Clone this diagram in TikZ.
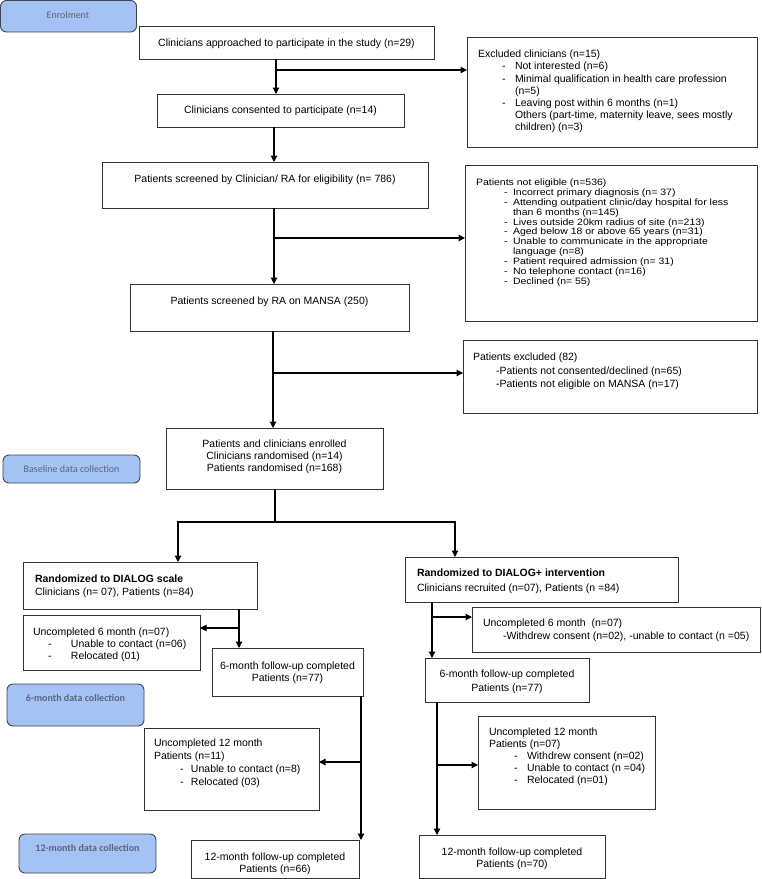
\documentclass[tikz,border=0pt]{standalone}
\usepackage{fontspec}
\usepackage{graphicx}
\setmainfont{Liberation Sans}
\newfontfamily\calfont{Carlito}
\usetikzlibrary{arrows.meta}
\definecolor{lblfill}{HTML}{A4C2F4}
\definecolor{lbldraw}{HTML}{3C4656}
\definecolor{lbltext}{HTML}{5A677A}
\definecolor{boxdraw}{HTML}{333333}
\newcommand\tstrut{\rule{0pt}{7.5pt}}
\newcommand\dsh[2]{\hspace*{#1}\makebox[#2][l]{-}}
\newcommand\ind[1]{\hspace*{#1}}
\begin{document}
\begin{tikzpicture}[x=1pt,y=-1pt,
  box/.style={draw=boxdraw, line width=1pt, inner sep=0pt, outer sep=0pt, anchor=north west},
  lbl/.style={draw=lbldraw, fill=lblfill, rounded corners=6pt, line width=0.9pt, inner sep=0pt, outer sep=0pt, anchor=north west},
  txt/.style={inner sep=0pt, outer sep=0pt, font=\fontsize{10.5}{12}\selectfont, align=center, anchor=north},
  ltxt/.style={txt, align=left, anchor=north west},
  lbltxt/.style={inner sep=0pt, font=\calfont\fontsize{10}{11}\selectfont, text=lbltext},
  lbltxtb/.style={lbltxt, font=\calfont\bfseries\fontsize{10}{11}\selectfont},
  arr/.style={-{Triangle[length=6.5pt,width=6.5pt]}, line width=1.1pt},
  ln/.style={line width=1.1pt}]
\useasboundingbox (0,0) rectangle (762,879);

% phase labels
\node[lbl, minimum width=136pt, minimum height=31.5pt] (enr) at (0.5,0.5) {};
\node[lbltxt] (enrt) at (68,15) {Enrolment};
\node[lbl, minimum width=137pt, minimum height=28pt] (base) at (3,455) {};
\node[lbltxt] (baset) at (71.5,469) {Baseline data collection};
\node[lbl, minimum width=137pt, minimum height=42pt] (six) at (7,684) {};
\node[lbltxtb] (sixt) at (75.5,698) {6-month data collection};
\node[lbl, minimum width=137pt, minimum height=39pt] (twl) at (19,834) {};
\node[lbltxtb] (twlt) at (87.5,848) {12-month data collection};

% boxes
\node[box, minimum width=295pt, minimum height=33pt] (A) at (139,26) {};
\node[txt] (At) at (286.5,39) {\tstrut Clinicians approached to participate in the study (n=29)};

\node[box, minimum width=247pt, minimum height=33pt] (B) at (157,94) {};
\node[txt] (Bt) at (280.5,106) {\tstrut Clinicians consented to participate (n=14)};

\node[box, minimum width=290pt, minimum height=110pt] (XC) at (467,37) {};
\node[ltxt, font=\fontsize{10.5}{12.2}\selectfont] (XCt) at (478,50) {\tstrut Excluded clinicians (n=15)\\
\dsh{24pt}{13pt}Not interested (n=6)\\
\dsh{24pt}{13pt}Minimal qualification in health care profession\\
\ind{37pt}(n=5)\\
\dsh{24pt}{13pt}Leaving post within 6 months (n=1)\\
\ind{37pt}Others (part-time, maternity leave, sees mostly\\
\ind{37pt}children) (n=3)};

\node[box, minimum width=326pt, minimum height=46pt] (C) at (102,162) {};
\node[txt] (Ct) at (265,175) {\tstrut Patients screened by Clinician/ RA for eligibility (n= 786)};

\node[box, minimum width=292pt, minimum height=156pt] (NE) at (465,165) {};
\node[ltxt, font=\fontsize{10.5}{11.25}\selectfont] (NEt) at (476,178.5) {\scalebox{1}[0.88]{\begin{tabular}{@{}l@{}}Patients not eligible (n=536)\\
\dsh{28pt}{9pt}Incorrect primary diagnosis (n= 37)\\
\dsh{28pt}{9pt}Attending outpatient clinic/day hospital for less\\
\ind{37pt}than 6 months (n=145)\\
\dsh{28pt}{9pt}Lives outside 20km radius of site (n=213)\\
\dsh{28pt}{9pt}Aged below 18 or above 65 years (n=31)\\
\dsh{28pt}{9pt}Unable to communicate in the appropriate\\
\ind{37pt}language (n=8)\\
\dsh{28pt}{9pt}Patient required admission (n= 31)\\
\dsh{28pt}{9pt}No telephone contact (n=16)\\
\dsh{28pt}{9pt}Declined (n= 55)\end{tabular}}};

\node[box, minimum width=279pt, minimum height=47pt] (D) at (130,284) {};
\node[txt] (Dt) at (269.5,297) {\tstrut Patients screened by RA on MANSA (250)};

\node[box, minimum width=294pt, minimum height=73pt] (PE) at (463,340) {};
\node[ltxt, font=\fontsize{10.5}{13.5}\selectfont] (PEt) at (473,353) {\tstrut Patients excluded (82)\\
\ind{23pt}-Patients not consented/declined (n=65)\\
\ind{23pt}-Patients not eligible on MANSA (n=17)};

\node[box, minimum width=217pt, minimum height=61pt] (E) at (166,428) {};
\node[txt] (Et) at (274.5,440) {\tstrut Patients and clinicians enrolled\\Clinicians randomised (n=14)\\Patients randomised (n=168)};

\node[box, minimum width=234pt, minimum height=47pt] (L1) at (23,562) {};
\node[ltxt, font=\fontsize{10.5}{12.5}\selectfont] (L1t) at (35,575) {\tstrut\textbf{Randomized to DIALOG scale}\\Clinicians (n= 07), Patients (n=84)};

\node[box, minimum width=273pt, minimum height=45pt] (R1) at (405,557) {};
\node[ltxt, font=\fontsize{10.5}{14.5}\selectfont] (R1t) at (417,569) {\tstrut\textbf{Randomized to DIALOG+ intervention}\\Clinicians recruited (n=07), Patients (n =84)};

\node[box, minimum width=177pt, minimum height=55pt] (U6L) at (23,615) {};
\node[ltxt] (U6Lt) at (33,628) {\tstrut Uncompleted 6 month (n=07)\\
\dsh{15pt}{23pt}Unable to contact (n=06)\\
\dsh{15pt}{23pt}Relocated (01)};

\node[box, minimum width=288pt, minimum height=45pt] (U6R) at (472,607) {};
\node[ltxt, font=\fontsize{10.5}{13}\selectfont] (U6Rt) at (483,619) {\tstrut Uncompleted 6 month\ \ (n=07)\\
\ind{20pt}-Withdrew consent (n=02), -unable to contact (n =05)};

\node[box, minimum width=151pt, minimum height=48pt] (L6) at (212,648) {};
\node[txt] (L6t) at (287.5,662) {\tstrut 6-month follow-up completed\\Patients (n=77)};

\node[box, minimum width=164pt, minimum height=44pt] (R6) at (425,658) {};
\node[txt, font=\fontsize{10.5}{13.5}\selectfont] (R6t) at (507,670) {\tstrut 6-month follow-up completed\\Patients (n=77)};

\node[box, minimum width=175pt, minimum height=82pt] (U12L) at (144,728) {};
\node[ltxt, font=\fontsize{10.5}{13}\selectfont] (U12Lt) at (154,739) {\tstrut Uncompleted 12 month\\Patients (n=11)\\
\dsh{26pt}{11pt}Unable to contact (n=8)\\
\dsh{26pt}{11pt}Relocated (03)};

\node[box, minimum width=177pt, minimum height=93pt] (U12R) at (478,716) {};
\node[ltxt] (U12Rt) at (489,728) {\tstrut Uncompleted 12 month\\Patients (n=07)\\
\dsh{25pt}{13pt}Withdrew consent (n=02)\\
\dsh{25pt}{13pt}Unable to contact (n =04)\\
\dsh{25pt}{13pt}Relocated (n=01)};

\node[box, minimum width=168pt, minimum height=38pt] (L12) at (191,840) {};
\node[txt] (L12t) at (275,853) {\tstrut 12-month follow-up completed\\Patients (n=66)};

\node[box, minimum width=186pt, minimum height=43pt] (R12) at (419,835) {};
\node[txt] (R12t) at (512,848) {\tstrut 12-month follow-up completed\\Patients (n=70)};

% branch coordinates
\coordinate (c1) at (276,70);
\coordinate (c2) at (274,238);
\coordinate (c3) at (273,373);
\coordinate (s) at (275,522);
\coordinate (sl) at (178,522);
\coordinate (sr) at (455,522);
\coordinate (c4) at (239,628);
\coordinate (c5) at (361,762);
\coordinate (c6) at (432,617);
\coordinate (c7) at (437,765);

% connectors
\draw[arr] (c1 |- A.south) -- (c1 |- B.north);
\draw[arr] (c1) -- (c1 -| XC.west);
\draw[arr] (c2 |- B.south) -- (c2 |- C.north);
\draw[arr] (c2 |- C.south) -- (c2 |- D.north);
\draw[arr] (c2) -- (c2 -| NE.west);
\draw[arr] (c3 |- D.south) -- (c3 |- E.north);
\draw[arr] (c3) -- (c3 -| PE.west);
\draw[ln] (s |- E.south) -- (s);
\draw[arr] (s) -- (sl) -- (sl |- L1.north);
\draw[arr] (s) -- (sr) -- (sr |- R1.north);
\draw[arr] (c4 |- L1.south) -- (c4 |- L6.north);
\draw[arr] (c4) -- (c4 -| U6L.east);
\draw[arr] (c5 |- L6.south) -- (c5 |- L12.north);
\draw[arr] (c5) -- (c5 -| U12L.east);
\draw[arr] (c6 |- R1.south) -- (c6 |- R6.north);
\draw[arr] (c6) -- (c6 -| U6R.west);
\draw[arr] (c7 |- R6.south) -- (c7 |- R12.north);
\draw[arr] (c7) -- (c7 -| U12R.west);
\end{tikzpicture}
\end{document}
